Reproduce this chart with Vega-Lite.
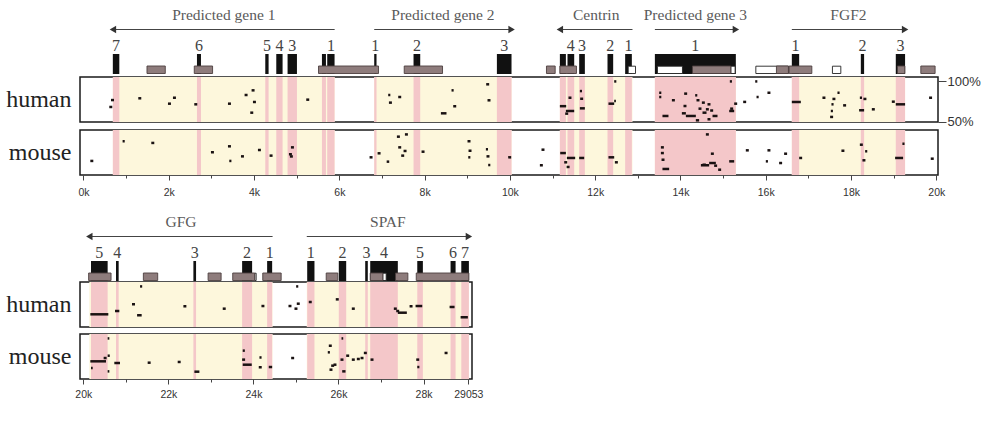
{
  "$schema": "https://vega.github.io/schema/vega-lite/v6.json",
  "background": "white",
  "padding": {"left": 4, "top": 4, "right": 2, "bottom": 2},
  "config": {"view": {"stroke": null}},
  "datasets": {
    "genes": [
      {"row": 1, "gene": "Predicted gene 1", "start": 690, "end": 5890, "strand": "-"},
      {"row": 1, "gene": "Predicted gene 2", "start": 6818, "end": 10040, "strand": "+"},
      {"row": 1, "gene": "Centrin", "start": 11172, "end": 12875, "strand": "-"},
      {"row": 1, "gene": "Predicted gene 3", "start": 13400, "end": 15300, "strand": "+"},
      {"row": 1, "gene": "FGF2", "start": 16612, "end": 19268, "strand": "+"},
      {"row": 2, "gene": "GFG", "start": 20141, "end": 24450, "strand": "-"},
      {"row": 2, "gene": "SPAF", "start": 25254, "end": 29066, "strand": "+"}
    ],
    "exons": [
      {"row": 1, "gene": "Predicted gene 1", "num": "7", "start": 688, "end": 840},
      {"row": 1, "gene": "Predicted gene 1", "num": "6", "start": 2661, "end": 2755},
      {"row": 1, "gene": "Predicted gene 1", "num": "5", "start": 4263, "end": 4341},
      {"row": 1, "gene": "Predicted gene 1", "num": "4", "start": 4521, "end": 4669},
      {"row": 1, "gene": "Predicted gene 1", "num": "3", "start": 4786, "end": 5006},
      {"row": 1, "gene": "Predicted gene 1", "num": "", "start": 5592, "end": 5686},
      {"row": 1, "gene": "Predicted gene 1", "num": "1", "start": 5716, "end": 5888},
      {"row": 1, "gene": "Predicted gene 2", "num": "1", "start": 6818, "end": 6872},
      {"row": 1, "gene": "Predicted gene 2", "num": "2", "start": 7740, "end": 7897},
      {"row": 1, "gene": "Predicted gene 2", "num": "3", "start": 9695, "end": 10038},
      {"row": 1, "gene": "Centrin", "num": "", "start": 11172, "end": 11313},
      {"row": 1, "gene": "Centrin", "num": "4", "start": 11351, "end": 11508},
      {"row": 1, "gene": "Centrin", "num": "3", "start": 11625, "end": 11758},
      {"row": 1, "gene": "Centrin", "num": "2", "start": 12289, "end": 12422},
      {"row": 1, "gene": "Centrin", "num": "1", "start": 12703, "end": 12860},
      {"row": 1, "gene": "Predicted gene 3", "num": "1", "start": 13400, "end": 15299},
      {"row": 1, "gene": "FGF2", "num": "1", "start": 16612, "end": 16784},
      {"row": 1, "gene": "FGF2", "num": "2", "start": 18230, "end": 18307},
      {"row": 1, "gene": "FGF2", "num": "3", "start": 19050, "end": 19268},
      {"row": 2, "gene": "GFG", "num": "5", "start": 20181, "end": 20572},
      {"row": 2, "gene": "GFG", "num": "4", "start": 20769, "end": 20831},
      {"row": 2, "gene": "GFG", "num": "3", "start": 22588, "end": 22651},
      {"row": 2, "gene": "GFG", "num": "2", "start": 23734, "end": 23969},
      {"row": 2, "gene": "GFG", "num": "1", "start": 24322, "end": 24440},
      {"row": 2, "gene": "SPAF", "num": "1", "start": 25264, "end": 25435},
      {"row": 2, "gene": "SPAF", "num": "2", "start": 26007, "end": 26181},
      {"row": 2, "gene": "SPAF", "num": "3", "start": 26628, "end": 26689},
      {"row": 2, "gene": "SPAF", "num": "4", "start": 26746, "end": 27395},
      {"row": 2, "gene": "SPAF", "num": "5", "start": 27852, "end": 27984},
      {"row": 2, "gene": "SPAF", "num": "6", "start": 28635, "end": 28753},
      {"row": 2, "gene": "SPAF", "num": "7", "start": 28887, "end": 29066}
    ],
    "repeats": [
      {"row": 1, "start": 1489, "end": 1918},
      {"row": 1, "start": 2598, "end": 3027},
      {"row": 1, "start": 5512, "end": 6919},
      {"row": 1, "start": 7522, "end": 8420},
      {"row": 1, "start": 10858, "end": 11062},
      {"row": 1, "start": 11172, "end": 11561},
      {"row": 1, "start": 14281, "end": 15181},
      {"row": 1, "start": 16251, "end": 16532},
      {"row": 1, "start": 16549, "end": 17081},
      {"row": 1, "start": 19089, "end": 19263},
      {"row": 1, "start": 19637, "end": 19972},
      {"row": 2, "start": 20125, "end": 20652},
      {"row": 2, "start": 21412, "end": 21749},
      {"row": 2, "start": 22934, "end": 23240},
      {"row": 2, "start": 23513, "end": 24030},
      {"row": 2, "start": 24219, "end": 24652},
      {"row": 2, "start": 25711, "end": 25984},
      {"row": 2, "start": 26746, "end": 27042},
      {"row": 2, "start": 27341, "end": 27631},
      {"row": 2, "start": 27828, "end": 29066}
    ],
    "utrs": [
      {"row": 1, "start": 12774, "end": 12946},
      {"row": 1, "start": 13460, "end": 14047},
      {"row": 1, "start": 15181, "end": 15282},
      {"row": 1, "start": 15768, "end": 16532},
      {"row": 1, "start": 17564, "end": 17761},
      {"row": 2, "start": 24030, "end": 24064},
      {"row": 2, "start": 27042, "end": 27121}
    ],
    "hits": [
      {"row": 1, "species": "human", "start": 605, "end": 675, "pct": 68.2},
      {"row": 1, "species": "human", "start": 645, "end": 715, "pct": 76.8},
      {"row": 1, "species": "human", "start": 1285, "end": 1355, "pct": 79.0},
      {"row": 1, "species": "human", "start": 1981, "end": 2051, "pct": 72.3},
      {"row": 1, "species": "human", "start": 2098, "end": 2168, "pct": 79.7},
      {"row": 1, "species": "human", "start": 2598, "end": 2668, "pct": 71.5},
      {"row": 1, "species": "human", "start": 3388, "end": 3458, "pct": 72.3},
      {"row": 1, "species": "human", "start": 3778, "end": 3848, "pct": 83.1},
      {"row": 1, "species": "human", "start": 3942, "end": 4012, "pct": 88.9},
      {"row": 1, "species": "human", "start": 3974, "end": 4044, "pct": 74.4},
      {"row": 1, "species": "human", "start": 3911, "end": 3981, "pct": 61.1},
      {"row": 1, "species": "human", "start": 5224, "end": 5294, "pct": 77.3},
      {"row": 1, "species": "human", "start": 7146, "end": 7196, "pct": 83.1},
      {"row": 1, "species": "human", "start": 7163, "end": 7233, "pct": 73.6},
      {"row": 1, "species": "human", "start": 7381, "end": 7451, "pct": 80.6},
      {"row": 1, "species": "human", "start": 8631, "end": 8681, "pct": 88.9},
      {"row": 1, "species": "human", "start": 8671, "end": 8741, "pct": 69.1},
      {"row": 1, "species": "human", "start": 8382, "end": 8513, "pct": 60.3},
      {"row": 1, "species": "human", "start": 9444, "end": 9514, "pct": 96.4},
      {"row": 1, "species": "human", "start": 9475, "end": 9545, "pct": 76.5},
      {"row": 1, "species": "human", "start": 11172, "end": 11320, "pct": 69.2},
      {"row": 1, "species": "human", "start": 11374, "end": 11444, "pct": 79.7},
      {"row": 1, "species": "human", "start": 11313, "end": 11508, "pct": 63.2},
      {"row": 1, "species": "human", "start": 11297, "end": 11367, "pct": 59.9},
      {"row": 1, "species": "human", "start": 11641, "end": 11691, "pct": 88.0},
      {"row": 1, "species": "human", "start": 11648, "end": 11718, "pct": 78.4},
      {"row": 1, "species": "human", "start": 11641, "end": 11758, "pct": 66.5},
      {"row": 1, "species": "human", "start": 12312, "end": 12446, "pct": 72.3},
      {"row": 1, "species": "human", "start": 12446, "end": 12486, "pct": 75.5},
      {"row": 1, "species": "human", "start": 12446, "end": 12496, "pct": 100},
      {"row": 1, "species": "human", "start": 13501, "end": 13551, "pct": 85.9},
      {"row": 1, "species": "human", "start": 13501, "end": 13551, "pct": 80.6},
      {"row": 1, "species": "human", "start": 13799, "end": 13869, "pct": 76.6},
      {"row": 1, "species": "human", "start": 14087, "end": 14157, "pct": 84.8},
      {"row": 1, "species": "human", "start": 14345, "end": 14395, "pct": 82.7},
      {"row": 1, "species": "human", "start": 14376, "end": 14446, "pct": 76.6},
      {"row": 1, "species": "human", "start": 14071, "end": 14141, "pct": 69.4},
      {"row": 1, "species": "human", "start": 13578, "end": 13719, "pct": 57.0},
      {"row": 1, "species": "human", "start": 14033, "end": 14127, "pct": 60.3},
      {"row": 1, "species": "human", "start": 14127, "end": 14361, "pct": 57.0},
      {"row": 1, "species": "human", "start": 14423, "end": 14493, "pct": 66.1},
      {"row": 1, "species": "human", "start": 14502, "end": 14572, "pct": 73.6},
      {"row": 1, "species": "human", "start": 14596, "end": 14666, "pct": 65.3},
      {"row": 1, "species": "human", "start": 14517, "end": 14611, "pct": 61.1},
      {"row": 1, "species": "human", "start": 14634, "end": 14704, "pct": 71.5},
      {"row": 1, "species": "human", "start": 14697, "end": 14767, "pct": 63.8},
      {"row": 1, "species": "human", "start": 14752, "end": 14869, "pct": 57.0},
      {"row": 1, "species": "human", "start": 14634, "end": 14704, "pct": 52.9},
      {"row": 1, "species": "human", "start": 14361, "end": 14438, "pct": 51.6},
      {"row": 1, "species": "human", "start": 15158, "end": 15208, "pct": 100},
      {"row": 1, "species": "human", "start": 15143, "end": 15260, "pct": 63.2},
      {"row": 1, "species": "human", "start": 15166, "end": 15236, "pct": 66.1},
      {"row": 1, "species": "human", "start": 15260, "end": 15330, "pct": 72.3},
      {"row": 1, "species": "human", "start": 15471, "end": 15541, "pct": 74.5},
      {"row": 1, "species": "human", "start": 15753, "end": 15803, "pct": 100},
      {"row": 1, "species": "human", "start": 15784, "end": 15834, "pct": 80.6},
      {"row": 1, "species": "human", "start": 16040, "end": 16110, "pct": 85.9},
      {"row": 1, "species": "human", "start": 16612, "end": 16823, "pct": 74.4},
      {"row": 1, "species": "human", "start": 17330, "end": 17400, "pct": 79.7},
      {"row": 1, "species": "human", "start": 17564, "end": 17634, "pct": 78.2},
      {"row": 1, "species": "human", "start": 17541, "end": 17591, "pct": 71.5},
      {"row": 1, "species": "human", "start": 17526, "end": 17576, "pct": 63.2},
      {"row": 1, "species": "human", "start": 17510, "end": 17580, "pct": 55.8},
      {"row": 1, "species": "human", "start": 17815, "end": 17885, "pct": 70.2},
      {"row": 1, "species": "human", "start": 17682, "end": 17732, "pct": 85.9},
      {"row": 1, "species": "human", "start": 18207, "end": 18257, "pct": 79.7},
      {"row": 1, "species": "human", "start": 18291, "end": 18361, "pct": 78.2},
      {"row": 1, "species": "human", "start": 18190, "end": 18307, "pct": 64.1},
      {"row": 1, "species": "human", "start": 18488, "end": 18558, "pct": 65.3},
      {"row": 1, "species": "human", "start": 18957, "end": 19027, "pct": 74.8},
      {"row": 1, "species": "human", "start": 19050, "end": 19268, "pct": 71.5},
      {"row": 1, "species": "human", "start": 19831, "end": 19901, "pct": 79.7},
      {"row": 1, "species": "mouse", "start": 160, "end": 230, "pct": 67.0},
      {"row": 1, "species": "mouse", "start": 917, "end": 967, "pct": 91.5},
      {"row": 1, "species": "mouse", "start": 1590, "end": 1660, "pct": 89.4},
      {"row": 1, "species": "mouse", "start": 2989, "end": 3059, "pct": 77.8},
      {"row": 1, "species": "mouse", "start": 3388, "end": 3458, "pct": 85.2},
      {"row": 1, "species": "mouse", "start": 3419, "end": 3469, "pct": 67.0},
      {"row": 1, "species": "mouse", "start": 3693, "end": 3763, "pct": 72.7},
      {"row": 1, "species": "mouse", "start": 4091, "end": 4161, "pct": 80.6},
      {"row": 1, "species": "mouse", "start": 4364, "end": 4434, "pct": 73.6},
      {"row": 1, "species": "mouse", "start": 4865, "end": 4935, "pct": 83.9},
      {"row": 1, "species": "mouse", "start": 4818, "end": 4888, "pct": 75.3},
      {"row": 1, "species": "mouse", "start": 4840, "end": 4910, "pct": 72.6},
      {"row": 1, "species": "mouse", "start": 6709, "end": 6779, "pct": 71.5},
      {"row": 1, "species": "mouse", "start": 6897, "end": 6967, "pct": 76.5},
      {"row": 1, "species": "mouse", "start": 7110, "end": 7170, "pct": 66.1},
      {"row": 1, "species": "mouse", "start": 7350, "end": 7420, "pct": 97.2},
      {"row": 1, "species": "mouse", "start": 7538, "end": 7608, "pct": 100},
      {"row": 1, "species": "mouse", "start": 7381, "end": 7451, "pct": 83.9},
      {"row": 1, "species": "mouse", "start": 7506, "end": 7576, "pct": 79.4},
      {"row": 1, "species": "mouse", "start": 7451, "end": 7521, "pct": 73.6},
      {"row": 1, "species": "mouse", "start": 7928, "end": 7998, "pct": 78.5},
      {"row": 1, "species": "mouse", "start": 9006, "end": 9076, "pct": 91.5},
      {"row": 1, "species": "mouse", "start": 9030, "end": 9100, "pct": 79.7},
      {"row": 1, "species": "mouse", "start": 9023, "end": 9073, "pct": 71.5},
      {"row": 1, "species": "mouse", "start": 9437, "end": 9487, "pct": 81.5},
      {"row": 1, "species": "mouse", "start": 9451, "end": 9521, "pct": 72.7},
      {"row": 1, "species": "mouse", "start": 9491, "end": 9541, "pct": 61.9},
      {"row": 1, "species": "mouse", "start": 9960, "end": 10030, "pct": 71.5},
      {"row": 1, "species": "mouse", "start": 10741, "end": 10811, "pct": 81.0},
      {"row": 1, "species": "mouse", "start": 10703, "end": 10773, "pct": 61.6},
      {"row": 1, "species": "mouse", "start": 11180, "end": 11313, "pct": 76.8},
      {"row": 1, "species": "mouse", "start": 11337, "end": 11531, "pct": 70.7},
      {"row": 1, "species": "mouse", "start": 11330, "end": 11400, "pct": 59.5},
      {"row": 1, "species": "mouse", "start": 11274, "end": 11344, "pct": 65.3},
      {"row": 1, "species": "mouse", "start": 11625, "end": 11742, "pct": 70.7},
      {"row": 1, "species": "mouse", "start": 12312, "end": 12446, "pct": 71.5},
      {"row": 1, "species": "mouse", "start": 12462, "end": 12532, "pct": 65.3},
      {"row": 1, "species": "mouse", "start": 13541, "end": 13611, "pct": 83.9},
      {"row": 1, "species": "mouse", "start": 13541, "end": 13611, "pct": 76.8},
      {"row": 1, "species": "mouse", "start": 13556, "end": 13626, "pct": 68.5},
      {"row": 1, "species": "mouse", "start": 13578, "end": 13735, "pct": 57.0},
      {"row": 1, "species": "mouse", "start": 14596, "end": 14666, "pct": 100},
      {"row": 1, "species": "mouse", "start": 14713, "end": 14783, "pct": 76.0},
      {"row": 1, "species": "mouse", "start": 14517, "end": 14596, "pct": 62.3},
      {"row": 1, "species": "mouse", "start": 14673, "end": 14830, "pct": 64.4},
      {"row": 1, "species": "mouse", "start": 14790, "end": 14860, "pct": 61.1},
      {"row": 1, "species": "mouse", "start": 14884, "end": 14954, "pct": 56.1},
      {"row": 1, "species": "mouse", "start": 14479, "end": 14673, "pct": 61.6},
      {"row": 1, "species": "mouse", "start": 15143, "end": 15260, "pct": 66.5},
      {"row": 1, "species": "mouse", "start": 15533, "end": 15603, "pct": 80.2},
      {"row": 1, "species": "mouse", "start": 16040, "end": 16110, "pct": 80.2},
      {"row": 1, "species": "mouse", "start": 16002, "end": 16052, "pct": 66.5},
      {"row": 1, "species": "mouse", "start": 16431, "end": 16501, "pct": 76.0},
      {"row": 1, "species": "mouse", "start": 16314, "end": 16384, "pct": 64.4},
      {"row": 1, "species": "mouse", "start": 16784, "end": 16854, "pct": 70.7},
      {"row": 1, "species": "mouse", "start": 17775, "end": 17845, "pct": 79.7},
      {"row": 1, "species": "mouse", "start": 18207, "end": 18277, "pct": 87.2},
      {"row": 1, "species": "mouse", "start": 18268, "end": 18338, "pct": 67.8},
      {"row": 1, "species": "mouse", "start": 18331, "end": 18381, "pct": 79.0},
      {"row": 1, "species": "mouse", "start": 19034, "end": 19221, "pct": 70.7},
      {"row": 1, "species": "mouse", "start": 19205, "end": 19255, "pct": 88.4},
      {"row": 1, "species": "mouse", "start": 19870, "end": 19940, "pct": 69.8},
      {"row": 2, "species": "human", "start": 20165, "end": 20588, "pct": 65.3},
      {"row": 2, "species": "human", "start": 20745, "end": 20847, "pct": 69.4},
      {"row": 2, "species": "human", "start": 21145, "end": 21215, "pct": 77.8},
      {"row": 2, "species": "human", "start": 21264, "end": 21372, "pct": 64.1},
      {"row": 2, "species": "human", "start": 21334, "end": 21384, "pct": 100},
      {"row": 2, "species": "human", "start": 22353, "end": 22423, "pct": 75.3},
      {"row": 2, "species": "human", "start": 23278, "end": 23348, "pct": 72.3},
      {"row": 2, "species": "human", "start": 24188, "end": 24258, "pct": 75.6},
      {"row": 2, "species": "human", "start": 24824, "end": 24894, "pct": 75.6},
      {"row": 2, "species": "human", "start": 24965, "end": 25035, "pct": 72.3},
      {"row": 2, "species": "human", "start": 25019, "end": 25089, "pct": 78.5},
      {"row": 2, "species": "human", "start": 25004, "end": 25054, "pct": 100},
      {"row": 2, "species": "human", "start": 25301, "end": 25371, "pct": 80.6},
      {"row": 2, "species": "human", "start": 25936, "end": 26006, "pct": 83.9},
      {"row": 2, "species": "human", "start": 26313, "end": 26383, "pct": 72.3},
      {"row": 2, "species": "human", "start": 27301, "end": 27371, "pct": 72.3},
      {"row": 2, "species": "human", "start": 27357, "end": 27427, "pct": 69.4},
      {"row": 2, "species": "human", "start": 27395, "end": 27607, "pct": 67.3},
      {"row": 2, "species": "human", "start": 27671, "end": 27741, "pct": 75.3},
      {"row": 2, "species": "human", "start": 27812, "end": 27969, "pct": 75.6},
      {"row": 2, "species": "human", "start": 28612, "end": 28729, "pct": 74.4},
      {"row": 2, "species": "human", "start": 28871, "end": 29042, "pct": 61.6},
      {"row": 2, "species": "mouse", "start": 20165, "end": 20534, "pct": 71.5},
      {"row": 2, "species": "mouse", "start": 20478, "end": 20548, "pct": 75.6},
      {"row": 2, "species": "mouse", "start": 20572, "end": 20622, "pct": 78.5},
      {"row": 2, "species": "mouse", "start": 20572, "end": 20612, "pct": 100},
      {"row": 2, "species": "mouse", "start": 20181, "end": 20221, "pct": 63.2},
      {"row": 2, "species": "mouse", "start": 20572, "end": 20612, "pct": 59.0},
      {"row": 2, "species": "mouse", "start": 20729, "end": 20863, "pct": 69.4},
      {"row": 2, "species": "mouse", "start": 21513, "end": 21583, "pct": 69.8},
      {"row": 2, "species": "mouse", "start": 22219, "end": 22289, "pct": 70.7},
      {"row": 2, "species": "mouse", "start": 22612, "end": 22729, "pct": 58.6},
      {"row": 2, "species": "mouse", "start": 23748, "end": 23798, "pct": 84.8},
      {"row": 2, "species": "mouse", "start": 23734, "end": 23804, "pct": 73.6},
      {"row": 2, "species": "mouse", "start": 23748, "end": 23960, "pct": 67.3},
      {"row": 2, "species": "mouse", "start": 24141, "end": 24191, "pct": 76.3},
      {"row": 2, "species": "mouse", "start": 24125, "end": 24195, "pct": 64.1},
      {"row": 2, "species": "mouse", "start": 24360, "end": 24440, "pct": 64.4},
      {"row": 2, "species": "mouse", "start": 24887, "end": 24957, "pct": 75.6},
      {"row": 2, "species": "mouse", "start": 25772, "end": 25842, "pct": 90.9},
      {"row": 2, "species": "mouse", "start": 25748, "end": 25798, "pct": 82.7},
      {"row": 2, "species": "mouse", "start": 25788, "end": 25858, "pct": 61.1},
      {"row": 2, "species": "mouse", "start": 25828, "end": 25898, "pct": 66.1},
      {"row": 2, "species": "mouse", "start": 25882, "end": 25952, "pct": 67.3},
      {"row": 2, "species": "mouse", "start": 26047, "end": 26117, "pct": 73.6},
      {"row": 2, "species": "mouse", "start": 26071, "end": 26111, "pct": 100},
      {"row": 2, "species": "mouse", "start": 26087, "end": 26165, "pct": 59.0},
      {"row": 2, "species": "mouse", "start": 26181, "end": 26251, "pct": 78.5},
      {"row": 2, "species": "mouse", "start": 26313, "end": 26383, "pct": 73.6},
      {"row": 2, "species": "mouse", "start": 26431, "end": 26501, "pct": 74.4},
      {"row": 2, "species": "mouse", "start": 26518, "end": 26588, "pct": 75.6},
      {"row": 2, "species": "mouse", "start": 26596, "end": 26666, "pct": 81.9},
      {"row": 2, "species": "mouse", "start": 26753, "end": 26823, "pct": 73.6},
      {"row": 2, "species": "mouse", "start": 27828, "end": 27898, "pct": 73.6},
      {"row": 2, "species": "mouse", "start": 27852, "end": 27902, "pct": 64.4},
      {"row": 2, "species": "mouse", "start": 28494, "end": 28564, "pct": 81.9}
    ]
  },
  "vconcat": [
    {
      "spacing": 0,
      "vconcat": [
        {
          "width": 858, "height": 70, "view": {"stroke": null},
          "layer": [
            {
              "data": {"name": "genes"},
              "transform": [{"filter": "datum.row == 1"}],
              "mark": {"type": "rule", "color": "#444", "strokeWidth": 1.1},
              "encoding": {
                "x": {"field": "start", "type": "quantitative", "scale": {"domain": [-82, 20040], "nice": false, "zero": false}, "axis": null},
                "x2": {"field": "end"},
                "y": {"datum": 4.45, "type": "quantitative", "scale": {"domain": [0, 7], "nice": false, "zero": false}, "axis": null}
              }
            },
            {
              "data": {"name": "genes"},
              "transform": [{"filter": "datum.row == 1 && datum.strand == '-'"}],
              "mark": {"type": "point", "shape": "triangle-left", "filled": true, "size": 55, "color": "#333", "opacity": 1},
              "encoding": {"x": {"field": "start", "type": "quantitative"}, "y": {"datum": 4.45, "type": "quantitative"}}
            },
            {
              "data": {"name": "genes"},
              "transform": [{"filter": "datum.row == 1 && datum.strand == '+'"}],
              "mark": {"type": "point", "shape": "triangle-right", "filled": true, "size": 55, "color": "#333", "opacity": 1},
              "encoding": {"x": {"field": "end", "type": "quantitative"}, "y": {"datum": 4.45, "type": "quantitative"}}
            },
            {
              "data": {"name": "genes"},
              "transform": [
                {"filter": "datum.row == 1"},
                {"fold": ["start", "end"], "as": ["edge", "pos"]},
                {"aggregate": [{"op": "mean", "field": "pos", "as": "mid"}], "groupby": ["gene"]}
              ],
              "mark": {"type": "text", "font": "Liberation Serif", "fontSize": 15.5, "color": "#5a5a5a", "baseline": "middle"},
              "encoding": {"x": {"field": "mid", "type": "quantitative"}, "y": {"datum": 5.95, "type": "quantitative"}, "text": {"field": "gene"}}
            },
            {
              "data": {"name": "exons"},
              "transform": [
                {"filter": "datum.row == 1 && datum.num != ''"},
                {"fold": ["start", "end"], "as": ["edge", "pos"]},
                {"aggregate": [{"op": "mean", "field": "pos", "as": "mid"}], "groupby": ["gene", "num"]}
              ],
              "mark": {"type": "text", "font": "Liberation Serif", "fontSize": 16, "color": "#444", "baseline": "middle"},
              "encoding": {"x": {"field": "mid", "type": "quantitative"}, "y": {"datum": 2.8, "type": "quantitative"}, "text": {"field": "num"}}
            },
            {
              "data": {"name": "exons"},
              "transform": [{"filter": "datum.row == 1"}],
              "mark": {"type": "rect", "color": "#111"},
              "encoding": {"x": {"field": "start", "type": "quantitative"}, "x2": {"field": "end"}, "y": {"datum": 0, "type": "quantitative"}, "y2": {"datum": 2.0}}
            },
            {
              "data": {"name": "utrs"},
              "transform": [{"filter": "datum.row == 1"}],
              "mark": {"type": "rect", "fill": "white", "stroke": "#222", "strokeWidth": 0.9},
              "encoding": {"x": {"field": "start", "type": "quantitative"}, "x2": {"field": "end"}, "y": {"datum": 0.05, "type": "quantitative"}, "y2": {"datum": 0.78}}
            },
            {
              "data": {"name": "repeats"},
              "transform": [{"filter": "datum.row == 1"}],
              "mark": {"type": "rect", "fill": "#8e7c7c", "stroke": "#4d3f3f", "strokeWidth": 0.9},
              "encoding": {"x": {"field": "start", "type": "quantitative"}, "x2": {"field": "end"}, "y": {"datum": 0.05, "type": "quantitative"}, "y2": {"datum": 0.8}}
            }
          ]
        },
        {
          "spacing": -5,
          "vconcat": [
            {
              "width": 858, "height": 45, "view": {"stroke": "#1a1a1a", "strokeWidth": 1.5},
              "layer": [
                {
                  "data": {"name": "genes"},
                  "transform": [{"filter": "datum.row == 1"}],
                  "mark": {"type": "rect", "color": "#fdf7dc"},
                  "encoding": {"x": {"field": "start", "type": "quantitative", "scale": {"domain": [-82, 20040], "nice": false, "zero": false}, "axis": null}, "x2": {"field": "end"}}
                },
                {
                  "data": {"name": "exons"},
                  "transform": [{"filter": "datum.row == 1"}],
                  "mark": {"type": "rect", "color": "#f4c7c9"},
                  "encoding": {"x": {"field": "start", "type": "quantitative"}, "x2": {"field": "end"}}
                },
                {
                  "data": {"name": "hits"},
                  "transform": [{"filter": "datum.row == 1 && datum.species == 'human'"}],
                  "mark": {"type": "rule", "color": "#1a1212", "strokeWidth": 2.5},
                  "encoding": {
                    "x": {"field": "start", "type": "quantitative"},
                    "x2": {"field": "end"},
                    "y": {"field": "pct", "type": "quantitative", "scale": {"domain": [49.5, 105.5], "nice": false, "zero": false},
                      "axis": {"orient": "right", "values": [50, 100], "labelExpr": "datum.value + '%'", "grid": false, "domain": false,
                        "tickSize": 8, "tickColor": "#444", "labelPadding": 1, "labelFont": "Liberation Sans", "labelFontSize": 13, "labelColor": "#333",
                        "title": "human", "titleAngle": 0, "titleX": -867, "titleY": 22.5, "titleAlign": "right", "titleBaseline": "middle",
                        "titleFont": "Liberation Serif", "titleFontSize": 24, "titleFontWeight": "normal", "titleColor": "#222"}}
                  }
                }
              ]
            },
            {
              "width": 858, "height": 45, "view": {"stroke": "#1a1a1a", "strokeWidth": 1.5},
              "layer": [
                {
                  "data": {"name": "genes"},
                  "transform": [{"filter": "datum.row == 1"}],
                  "mark": {"type": "rect", "color": "#fdf7dc"},
                  "encoding": {
                    "x": {"field": "start", "type": "quantitative", "scale": {"domain": [-82, 20040], "nice": false, "zero": false},
                      "axis": {"values": [0, 1000, 2000, 3000, 4000, 5000, 6000, 7000, 8000, 9000, 10000, 11000, 12000, 13000, 14000, 15000, 16000, 17000, 18000, 19000, 20000],
                        "labelExpr": "datum.value % 2000 == 0 ? (datum.value / 1000) + 'k' : ''", "title": null, "grid": false, "domain": false,
                        "tickSize": {"condition": {"test": "datum.value % 2000 != 0", "value": 3}, "value": 5},
                        "tickColor": "#444", "labelFlush": false, "labelPadding": 7, "labelFont": "Liberation Sans", "labelFontSize": 10.5, "labelColor": "#333"}},
                    "x2": {"field": "end"}
                  }
                },
                {
                  "data": {"name": "exons"},
                  "transform": [{"filter": "datum.row == 1"}],
                  "mark": {"type": "rect", "color": "#f4c7c9"},
                  "encoding": {"x": {"field": "start", "type": "quantitative"}, "x2": {"field": "end"}}
                },
                {
                  "data": {"name": "hits"},
                  "transform": [{"filter": "datum.row == 1 && datum.species == 'mouse'"}],
                  "mark": {"type": "rule", "color": "#1a1212", "strokeWidth": 2.5},
                  "encoding": {
                    "x": {"field": "start", "type": "quantitative"},
                    "x2": {"field": "end"},
                    "y": {"field": "pct", "type": "quantitative", "scale": {"domain": [49.5, 105.5], "nice": false, "zero": false},
                      "axis": {"orient": "left", "labels": false, "ticks": false, "domain": false, "grid": false,
                        "title": "mouse", "titleAngle": 0, "titleX": -9, "titleY": 22.5, "titleAlign": "right", "titleBaseline": "middle",
                        "titleFont": "Liberation Serif", "titleFontSize": 24, "titleFontWeight": "normal", "titleColor": "#222"}}
                  }
                }
              ]
            }
          ]
        }
      ]
    },
    {
      "spacing": 0,
      "vconcat": [
        {
          "width": 392, "height": 70, "view": {"stroke": null},
          "layer": [
            {
              "data": {"name": "genes"},
              "transform": [{"filter": "datum.row == 2"}],
              "mark": {"type": "rule", "color": "#444", "strokeWidth": 1.1},
              "encoding": {
                "x": {"field": "start", "type": "quantitative", "scale": {"domain": [19922, 29139], "nice": false, "zero": false}, "axis": null},
                "x2": {"field": "end"},
                "y": {"datum": 4.45, "type": "quantitative", "scale": {"domain": [0, 7], "nice": false, "zero": false}, "axis": null}
              }
            },
            {
              "data": {"name": "genes"},
              "transform": [{"filter": "datum.row == 2 && datum.strand == '-'"}],
              "mark": {"type": "point", "shape": "triangle-left", "filled": true, "size": 55, "color": "#333", "opacity": 1},
              "encoding": {"x": {"field": "start", "type": "quantitative"}, "y": {"datum": 4.45, "type": "quantitative"}}
            },
            {
              "data": {"name": "genes"},
              "transform": [{"filter": "datum.row == 2 && datum.strand == '+'"}],
              "mark": {"type": "point", "shape": "triangle-right", "filled": true, "size": 55, "color": "#333", "opacity": 1},
              "encoding": {"x": {"field": "end", "type": "quantitative"}, "y": {"datum": 4.45, "type": "quantitative"}}
            },
            {
              "data": {"name": "genes"},
              "transform": [
                {"filter": "datum.row == 2"},
                {"fold": ["start", "end"], "as": ["edge", "pos"]},
                {"aggregate": [{"op": "mean", "field": "pos", "as": "mid"}], "groupby": ["gene"]}
              ],
              "mark": {"type": "text", "font": "Liberation Serif", "fontSize": 15.5, "color": "#5a5a5a", "baseline": "middle"},
              "encoding": {"x": {"field": "mid", "type": "quantitative"}, "y": {"datum": 5.95, "type": "quantitative"}, "text": {"field": "gene"}}
            },
            {
              "data": {"name": "exons"},
              "transform": [
                {"filter": "datum.row == 2 && datum.num != ''"},
                {"fold": ["start", "end"], "as": ["edge", "pos"]},
                {"aggregate": [{"op": "mean", "field": "pos", "as": "mid"}], "groupby": ["gene", "num"]}
              ],
              "mark": {"type": "text", "font": "Liberation Serif", "fontSize": 16, "color": "#444", "baseline": "middle"},
              "encoding": {"x": {"field": "mid", "type": "quantitative"}, "y": {"datum": 2.8, "type": "quantitative"}, "text": {"field": "num"}}
            },
            {
              "data": {"name": "exons"},
              "transform": [{"filter": "datum.row == 2"}],
              "mark": {"type": "rect", "color": "#111"},
              "encoding": {"x": {"field": "start", "type": "quantitative"}, "x2": {"field": "end"}, "y": {"datum": 0, "type": "quantitative"}, "y2": {"datum": 2.0}}
            },
            {
              "data": {"name": "utrs"},
              "transform": [{"filter": "datum.row == 2"}],
              "mark": {"type": "rect", "fill": "white", "stroke": "#222", "strokeWidth": 0.9},
              "encoding": {"x": {"field": "start", "type": "quantitative"}, "x2": {"field": "end"}, "y": {"datum": 0.05, "type": "quantitative"}, "y2": {"datum": 0.78}}
            },
            {
              "data": {"name": "repeats"},
              "transform": [{"filter": "datum.row == 2"}],
              "mark": {"type": "rect", "fill": "#8e7c7c", "stroke": "#4d3f3f", "strokeWidth": 0.9},
              "encoding": {"x": {"field": "start", "type": "quantitative"}, "x2": {"field": "end"}, "y": {"datum": 0.05, "type": "quantitative"}, "y2": {"datum": 0.8}}
            }
          ]
        },
        {
          "spacing": 5,
          "vconcat": [
            {
              "width": 392, "height": 45, "view": {"stroke": "#1a1a1a", "strokeWidth": 1.5},
              "layer": [
                {
                  "data": {"name": "genes"},
                  "transform": [{"filter": "datum.row == 2"}],
                  "mark": {"type": "rect", "color": "#fdf7dc"},
                  "encoding": {"x": {"field": "start", "type": "quantitative", "scale": {"domain": [19922, 29139], "nice": false, "zero": false}, "axis": null}, "x2": {"field": "end"}}
                },
                {
                  "data": {"name": "exons"},
                  "transform": [{"filter": "datum.row == 2"}],
                  "mark": {"type": "rect", "color": "#f4c7c9"},
                  "encoding": {"x": {"field": "start", "type": "quantitative"}, "x2": {"field": "end"}}
                },
                {
                  "data": {"name": "hits"},
                  "transform": [{"filter": "datum.row == 2 && datum.species == 'human'"}],
                  "mark": {"type": "rule", "color": "#1a1212", "strokeWidth": 2.5},
                  "encoding": {
                    "x": {"field": "start", "type": "quantitative"},
                    "x2": {"field": "end"},
                    "y": {"field": "pct", "type": "quantitative", "scale": {"domain": [49.5, 105.5], "nice": false, "zero": false},
                      "axis": {"orient": "left", "labels": false, "ticks": false, "domain": false, "grid": false,
                        "title": "human", "titleAngle": 0, "titleX": -9, "titleY": 22.5, "titleAlign": "right", "titleBaseline": "middle",
                        "titleFont": "Liberation Serif", "titleFontSize": 24, "titleFontWeight": "normal", "titleColor": "#222"}}
                  }
                }
              ]
            },
            {
              "width": 392, "height": 45, "view": {"stroke": "#1a1a1a", "strokeWidth": 1.5},
              "layer": [
                {
                  "data": {"name": "genes"},
                  "transform": [{"filter": "datum.row == 2"}],
                  "mark": {"type": "rect", "color": "#fdf7dc"},
                  "encoding": {
                    "x": {"field": "start", "type": "quantitative", "scale": {"domain": [19922, 29139], "nice": false, "zero": false},
                      "axis": {"values": [20000, 21000, 22000, 23000, 24000, 25000, 26000, 27000, 28000, 29053],
                        "labelExpr": "datum.value == 29053 ? '29053' : (datum.value % 2000 == 0 ? (datum.value / 1000) + 'k' : '')", "title": null, "grid": false, "domain": false,
                        "tickSize": {"condition": {"test": "datum.value % 2000 != 0 && datum.value != 29053", "value": 3}, "value": 5},
                        "tickColor": "#444", "labelFlush": false, "labelPadding": 5, "labelFont": "Liberation Sans", "labelFontSize": 10.5, "labelColor": "#333"}},
                    "x2": {"field": "end"}
                  }
                },
                {
                  "data": {"name": "exons"},
                  "transform": [{"filter": "datum.row == 2"}],
                  "mark": {"type": "rect", "color": "#f4c7c9"},
                  "encoding": {"x": {"field": "start", "type": "quantitative"}, "x2": {"field": "end"}}
                },
                {
                  "data": {"name": "hits"},
                  "transform": [{"filter": "datum.row == 2 && datum.species == 'mouse'"}],
                  "mark": {"type": "rule", "color": "#1a1212", "strokeWidth": 2.5},
                  "encoding": {
                    "x": {"field": "start", "type": "quantitative"},
                    "x2": {"field": "end"},
                    "y": {"field": "pct", "type": "quantitative", "scale": {"domain": [49.5, 105.5], "nice": false, "zero": false},
                      "axis": {"orient": "left", "labels": false, "ticks": false, "domain": false, "grid": false,
                        "title": "mouse", "titleAngle": 0, "titleX": -9, "titleY": 22.5, "titleAlign": "right", "titleBaseline": "middle",
                        "titleFont": "Liberation Serif", "titleFontSize": 24, "titleFontWeight": "normal", "titleColor": "#222"}}
                  }
                }
              ]
            }
          ]
        }
      ]
    }
  ],
  "spacing": 12
}
